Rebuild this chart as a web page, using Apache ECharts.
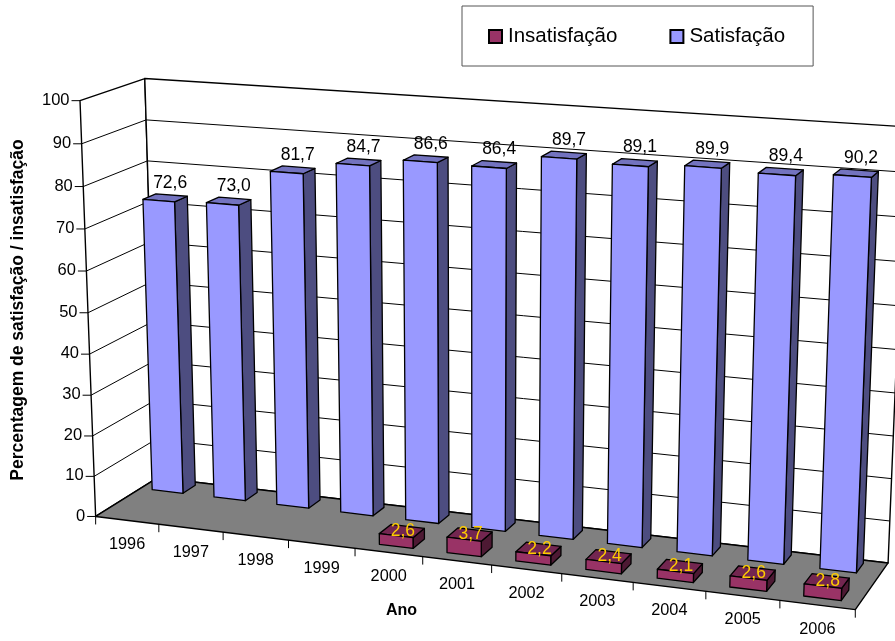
<!DOCTYPE html>
<html>
<head>
<meta charset="utf-8">
<style>html,body{margin:0;padding:0;background:#fff}#c{width:895px;height:641px}</style>
<script src="https://cdn.jsdelivr.net/npm/echarts@6/dist/echarts.min.js"></script>
</head>
<body>
<div id="c"></div>
<script>
const anos = ['1996','1997','1998','1999','2000','2001','2002','2003','2004','2005','2006'];
const satisfacao = [72.6,73.0,81.7,84.7,86.6,86.4,89.7,89.1,89.9,89.4,90.2];
const insatisfacao = [null,null,null,null,2.6,3.7,2.2,2.4,2.1,2.6,2.8];
const valorTicks = [0,10,20,30,40,50,60,70,80,90,100];

// Camera calibration: [category position, depth 0..1, value] -> page pixel
const calib = [
 [0,0,0,96,515],[0,0,100,78.7,100.7],[0,0,60,86.3,272],[0,0,10,94.7,474.7],
 [0,1,0,155,479],[0,1,100,145.3,78],[0,1,80,148,159],
 [3,0,0,288,539],[6,0,0,490.7,566],[9,0,0,705.3,592],[11,0,0,855,610.7],
 [11,1,0,887,560],[11,1,100,905,125.5],[11,1,90,903,170.5],[11,1,10,888.5,518],[11,1,20,890,475],
 // floor footprint of the rear row (depth 0.72)
 [0.19,0.72,0,153,489.3],[0.69,0.72,0,183.7,493.3],[3.19,0.72,0,341.7,511.7],[3.69,0.72,0,373,516.7],
 [5.69,0.72,0,505.3,532.3],[7.19,0.72,0,608.3,546],[7.69,0.72,0,642.3,549.3],
 [9.19,0.72,0,748.3,561.7],[9.69,0.72,0,784.3,566.7],[10.19,0.72,0,821.7,571],[10.69,0.72,0,857,574.3],
 // tops of rear row
 [0.19,0.72,72.6,142.7,200.3],[0.69,0.72,72.6,175,203.7],[10.19,0.72,90.2,834.3,176.7],[10.69,0.72,90.2,873.3,179.3],
 // floor footprint of the front row (depth 0.14)
 [4.25,0.14,0,378.3,543.3],[4.75,0.14,0,413.3,547.3],[8.25,0.14,0,657.3,576.7],[8.75,0.14,0,693.3,581.3],
 [10.25,0.14,0,804,595],[10.75,0.14,0,841.7,600.7]
];
function solveCamera(){
  const A=[],b=[];
  calib.forEach(([u,d,v,px,py])=>{
    const U=u/11,V=v/100,X=px/1000,Y=py/1000;
    A.push([U,d,V,1,0,0,0,0,-X*U,-X*d,-X*V]);b.push(X);
    A.push([0,0,0,0,U,d,V,1,-Y*U,-Y*d,-Y*V]);b.push(Y);
  });
  const n=11,N=[];
  for(let i=0;i<n;i++){N.push(new Array(n+1).fill(0));
    for(let j=0;j<n;j++)for(let k=0;k<A.length;k++)N[i][j]+=A[k][i]*A[k][j];
    for(let k=0;k<A.length;k++)N[i][n]+=A[k][i]*b[k];}
  for(let i=0;i<n;i++){let p=i;for(let r=i+1;r<n;r++)if(Math.abs(N[r][i])>Math.abs(N[p][i]))p=r;
    [N[i],N[p]]=[N[p],N[i]];
    for(let r=0;r<n;r++){if(r===i)continue;const f=N[r][i]/N[i][i];for(let c=i;c<=n;c++)N[r][c]-=f*N[i][c];}}
  return N.map((r,i)=>r[n]/r[i]);
}
const M=solveCamera();
function project(u,d,v){
  const U=u/11,V=v/100,w=M[8]*U+M[9]*d+M[10]*V+1;
  return [1000*(M[0]*U+M[1]*d+M[2]*V+M[3])/w,1000*(M[4]*U+M[5]*d+M[6]*V+M[7])/w];
}
// hidden cartesian scales -> model coordinates
function scales(params,api){
  const cs=params.coordSys;
  return {
    u:(i,off)=>(api.coord([i,0])[0]-cs.x)/cs.width*11-0.5+off,
    v:(val)=>(cs.y+cs.height-api.coord([0,val])[1])/cs.height*100
  };
}
const FONT='"Liberation Sans",Arial,sans-serif';
const ink='#000';
function poly(pts,fill,lw){return {type:'polygon',shape:{points:pts},style:{fill:fill,stroke:ink,lineWidth:lw,lineJoin:'round'}};}
function line(a,b,lw){return {type:'line',shape:{x1:a[0],y1:a[1],x2:b[0],y2:b[1]},style:{stroke:ink,lineWidth:lw}};}
function txt(t,x,y,size,color,align,vert){return {type:'text',z2:50,style:{text:t,x:x,y:y,fill:color,font:size+'px '+FONT,align:align||'center',verticalAlign:vert||'middle'}};}

function renderFrame(params,api){
  const s=scales(params,api),ch=[],n=anos.length,T=s.v(100),Z=s.v(0);
  const L=s.u(0,0),R=s.u(n-1,1);
  ch.push(poly([project(L,0,Z),project(L,1,Z),project(L,1,T),project(L,0,T)],'#fff',1.4));
  ch.push(poly([project(L,1,Z),project(R,1,Z),project(R,1,T),project(L,1,T)],'#fff',1.4));
  valorTicks.forEach(t=>{
    const v=s.v(t),a=project(L,0,v),b=project(L,1,v),c=project(R,1,v);
    if(t>0&&t<100){ch.push(line(a,b,1));ch.push(line(b,c,1));}
    ch.push(line([a[0]-8.5,a[1]],a,1));
    ch.push(txt(String(t),a[0]-10.5,a[1]-0.5,16.5,'#000','right'));
  });
  ch.push(poly([project(L,0,Z),project(R,0,Z),project(R,1,Z),project(L,1,Z)],'#808080',1.4));
  for(let i=0;i<=n;i++){const p=project(L+i,0,Z);ch.push(line(p,[p[0],p[1]+8],1));}
  anos.forEach((a,i)=>{const p=project(s.u(i,0.5),0,Z);ch.push(txt(a,p[0],p[1]+24,16.3,'#000'));});
  return {type:'group',children:ch};
}
function boxRender(dNear,dFar,front,side,top,labelColor,labelSize,labelDx,labelDy,center,halfW){
  return function(params,api){
    const i=api.value(0),val=api.value(1);
    if(val==null||isNaN(val))return null;
    const s=scales(params,api),a=s.u(i,center-halfW),b=s.u(i,center+halfW),Z=s.v(0),V=s.v(val);
    const fl=project(a,dNear,Z),fr=project(b,dNear,Z),tl=project(a,dNear,V),tr=project(b,dNear,V);
    const br=project(b,dFar,Z),bt=project(b,dFar,V),bl=project(a,dFar,V);
    const c=project(s.u(i,center),(dNear+dFar)/2,V);
    const txtLabel=val.toFixed(1).replace('.',',');
    return {type:'group',children:[
      poly([fr,br,bt,tr],side,1.3),
      poly([tl,tr,bt,bl],top,1.3),
      poly([fl,fr,tr,tl],front,1.3),
      txt(txtLabel,c[0]+labelDx,c[1]+labelDy,labelSize,labelColor)
    ]};
  };
}
const rows=a=>a.map((v,i)=>[i,v]).filter(r=>r[1]!=null);
const chart=echarts.init(document.getElementById('c'),null,{renderer:'canvas'});
chart.setOption({
  animation:false,
  backgroundColor:'#fff',
  grid:{left:0,right:0,top:0,bottom:0,containLabel:false},
  xAxis:{type:'category',data:anos,show:false},
  yAxis:{type:'value',min:0,max:100,interval:10,show:false},
  legend:{
    data:['Insatisfação','Satisfação'],
    left:462,top:6,orient:'horizontal',
    padding:[20,28,19,26],itemGap:52,itemWidth:13,itemHeight:13,icon:'rect',
    borderColor:'#555',borderWidth:1,backgroundColor:'#fff',
    textStyle:{fontFamily:FONT,fontSize:20.5,color:'#000',padding:[0,0,0,1]},
    selectedMode:false
  },
  graphic:[
    {type:'text',left:386,top:603,style:{text:'Ano',font:'bold 16px '+FONT,fill:'#000'}},
    {type:'text',x:18,y:310,rotation:Math.PI/2,style:{text:'Percentagem de satisfação / insatisfação',font:'bold 17.5px '+FONT,fill:'#000',align:'center',verticalAlign:'middle'}}
  ],
  series:[
    {type:'custom',name:'frame',z:1,clip:false,silent:true,renderItem:renderFrame,data:[[0,0]],encode:{x:0,y:1}},
    {type:'custom',name:'Satisfação',z:2,clip:false,renderItem:boxRender(0.72,0.93,'#9999FF','#4D4D80','#7373BF','#000',17.5,5,-15,0.44,0.25),
      itemStyle:{color:'#9999FF',borderColor:'#000',borderWidth:1},data:rows(satisfacao),encode:{x:0,y:1}},
    {type:'custom',name:'Insatisfação',z:3,clip:false,renderItem:boxRender(0.14,0.36,'#993366','#4D1933','#732650','#FFCC00',17.5,1,0,0.5,0.25),
      itemStyle:{color:'#993366',borderColor:'#000',borderWidth:1},data:rows(insatisfacao),encode:{x:0,y:1}}
  ]
});
</script>
</body>
</html>
